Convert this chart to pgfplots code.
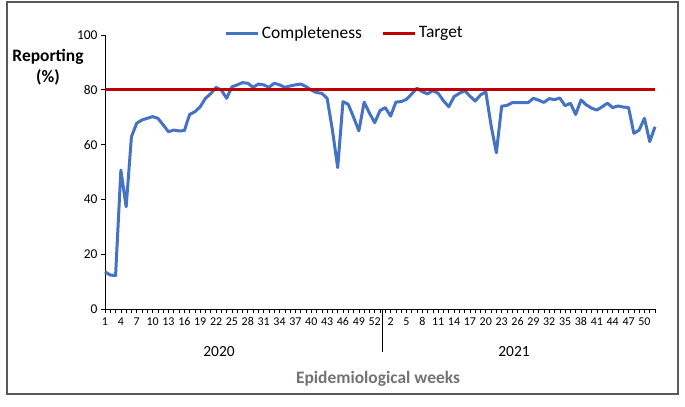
\documentclass[border=0pt]{standalone}
\usepackage{fontspec}
\setmainfont{Carlito}
\usepackage{pgfplots}
\usepackage{pgfplotstable}
\pgfplotsset{compat=1.18}

\definecolor{blueline}{HTML}{4472C4}
\definecolor{redline}{HTML}{C00000}
\definecolor{titlegray}{HTML}{767171}

% weekly reporting completeness (%), weeks 1-53 of 2020 then 1-52 of 2021
\pgfplotstableread{
w c
1 13.6
2 12.4
3 12.2
4 50.7
5 37.3
6 62.9
7 67.8
8 69.0
9 69.6
10 70.2
11 69.6
12 67.2
13 64.7
14 65.3
15 65.0
16 65.1
17 71.0
18 72.0
19 73.8
20 76.9
21 78.6
22 80.9
23 79.9
24 76.9
25 81.1
26 81.8
27 82.6
28 82.4
29 80.9
30 82.1
31 81.8
32 80.9
33 82.4
34 81.8
35 80.9
36 81.4
37 81.8
38 82.1
39 81.2
40 79.9
41 79.0
42 78.7
43 76.9
44 65.3
45 51.6
46 75.7
47 74.7
48 70.0
49 65.0
50 75.5
51 71.5
52 68.0
53 72.4
54 73.5
55 70.4
56 75.5
57 75.7
58 76.5
59 78.5
60 80.6
61 79.3
62 78.5
63 79.7
64 78.7
65 76.0
66 73.8
67 77.5
68 78.7
69 79.7
70 77.7
71 75.9
72 78.1
73 79.3
74 67.0
75 57.0
76 74.0
77 74.3
78 75.3
79 75.3
80 75.3
81 75.3
82 76.9
83 76.2
84 75.4
85 76.8
86 76.4
87 77.0
88 74.2
89 75.1
90 71.0
91 76.3
92 74.5
93 73.3
94 72.6
95 73.8
96 75.1
97 73.5
98 74.1
99 73.7
100 73.5
101 64.1
102 65.3
103 69.6
104 61.1
105 66.5
}\completeness

\begin{document}
\begin{tikzpicture}[x=1bp,y=1bp]
\path[use as bounding box] (0,0) rectangle (685,406);
\draw[line width=1.2bp, black!65] (7,12) rectangle (678,404);

\begin{axis}[
    at={(105bp,97bp)}, anchor=south west,
    scale only axis, width=550bp, height=274bp,
    xmin=1, xmax=105, ymin=0, ymax=100,
    axis x line*=bottom, axis y line*=left,
    axis line style={black, line width=0.8bp},
    xtick={1,4,...,103},
    xticklabels={1,4,7,10,13,16,19,22,25,28,31,34,37,40,43,46,49,52,
                 2,5,8,11,14,17,20,23,26,29,32,35,38,41,44,47,50},
    minor xtick={1,...,105},
    ytick={0,20,...,100},
    tick align=outside,
    major tick length=4bp, minor tick length=4bp,
    tick style={black, line width=0.6bp},
    /pgf/number format/assume math mode=true,
    xticklabel style={font=\fontsize{12}{14}\selectfont, yshift=-1bp},
    yticklabel style={font=\fontsize{13.5}{15}\selectfont},
    legend columns=2,
    legend style={draw=none, fill=none, at={(0.436,1.007)}, anchor=center,
        font=\fontsize{17.5}{20}\selectfont,
        /tikz/every even column/.append style={column sep=18bp}},
    legend image code/.code={\draw[#1] (0bp,0bp) -- (32bp,0bp);},
    clip=false,
]
\addplot[blueline, line width=3bp, line join=round] table[x=w, y=c] {\completeness};
\addlegendentry{Completeness}
\addplot[redline, line width=3bp] coordinates {(1,80) (105,80)};
\addlegendentry{Target}
\end{axis}

\draw[black, line width=0.8bp] (382,97) -- (382,54);
\node[align=center, font=\bfseries\fontsize{17.5}{21}\selectfont] at (48,339) {Reporting\\(\%)};
\node[font=\fontsize{15.5}{18}\selectfont] at (219,54) {2020};
\node[font=\fontsize{15.5}{18}\selectfont] at (514,54) {2021};
\node[font=\bfseries\fontsize{17.5}{20}\selectfont, text=titlegray] at (378,27) {Epidemiological weeks};
\end{tikzpicture}
\end{document}
